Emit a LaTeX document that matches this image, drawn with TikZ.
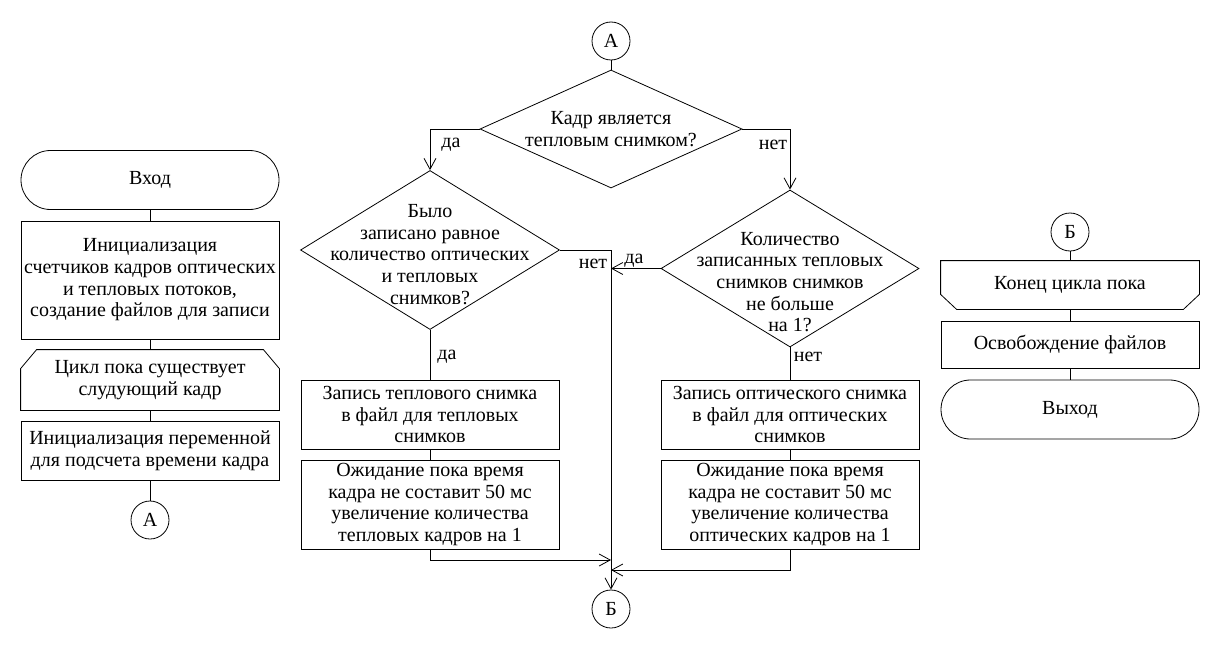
\documentclass[tikz,border=0pt]{standalone}
\usepackage{fontspec}
\setmainfont{Liberation Serif}
\usetikzlibrary{shapes.geometric,arrows.meta}

\tikzset{
  block/.style={draw,rectangle,minimum width=258pt,align=center,inner sep=2pt},
  term/.style={block,rounded corners=29.5pt,minimum height=59pt},
  conn/.style={draw,circle,minimum size=38pt,inner sep=0pt},
  decision/.style={draw,diamond,inner sep=0pt},
  qtext/.style={align=center,inner sep=0pt},
  lbl/.style={inner sep=1pt},
}

\begin{document}
\begin{tikzpicture}[x=1pt,y=-1pt,line width=0.8pt,
  >={Straight Barb[length=11pt,width=12pt]},
  font=\fontsize{20}{21.7}\selectfont]
\useasboundingbox (0,0) rectangle (1220,650);
% left column
\node[term] (start) at (150,180) {Вход};
\node[block,minimum height=118pt] (init) at (150,280)
  {Инициализация\\счетчиков кадров оптических\\и тепловых потоков,\\создание файлов для записи};
\node[block,draw=none,minimum height=60pt] (loop) at (150,380) {Цикл пока существует\\слудующий кадр};
\draw ([yshift=-19pt]loop.north west)--([xshift=16pt]loop.north west)
  --([xshift=-16pt]loop.north east)--([yshift=-19pt]loop.north east)
  --(loop.south east)--(loop.south west)--cycle;
\node[block,minimum height=59pt] (ivar) at (150,450.5) {Инициализация переменной\\для подсчета времени кадра};
\node[conn] (A1) at (150,520) {А};
\draw (start)--(init) (init)--(loop) (loop)--(ivar) (ivar)--(A1);
% middle
\node[conn] (A2) at (611,41) {А};
\node[decision,minimum width=262pt,minimum height=118pt] (q1) at (611,129) {};
\node[qtext] (q1t) at (611,129) {Кадр является\\тепловым снимком?};
\node[decision,minimum width=259pt,minimum height=159pt] (q2) at (430,250) {};
\node[qtext] (q2t) at (430,254.5) {Было\\записано равное\\количество оптических\\и тепловых\\снимков?};
\node[decision,minimum width=258pt,minimum height=157pt] (q3) at (790,268.5) {};
\node[qtext] (q3t) at (790,282) {Количество\\записанных тепловых\\снимков снимков\\не больше\\на 1?};
\node[block,minimum height=69pt] (th1) at (430,414.5) {Запись теплового снимка\\в файл для тепловых\\снимков};
\node[block,minimum height=89pt] (th2) at (430,504.5) {Ожидание пока время\\кадра не составит 50 мс\\увеличение количества\\тепловых кадров на 1};
\node[block,minimum height=69pt] (op1) at (790,414.5) {Запись оптического снимка\\в файл для оптических\\снимков};
\node[block,minimum height=89pt] (op2) at (790,504.5) {Ожидание пока время\\кадра не составит 50 мс\\увеличение количества\\оптических кадров на 1};
\node[conn] (B2) at (611,609) {Б};
\coordinate (jl) at (611,560);
\coordinate (jr) at (611,570);
\draw (A2)--(q1.north);
\draw[->] (q1.west)-|(q2.north);
\draw[->] (q1.east)-|(q3.north);
\draw[->] (q2.east)-|(B2.north);
\draw[->] (q3.west)--(q3.west-|B2);
\draw (q2.south)--(th1) (th1)--(th2);
\draw (q3.south)--(op1) (op1)--(op2);
\draw[->] (th2.south)|-(jl);
\draw[->] (op2.south)|-(jr);
\node[lbl] (l1) at (451,145) {да};
\node[lbl] (l2) at (773,145) {нет};
\node[lbl] (l3) at (593,264) {нет};
\node[lbl] (l4) at (634,261) {да};
\node[lbl] (l5) at (447,357) {да};
\node[lbl] (l6) at (808,357) {нет};
% right column
\node[conn] (B3) at (1070,232) {Б};
\node[block,draw=none,minimum height=48pt] (lend) at (1070,285) {Конец цикла пока};
\draw (lend.north west)--(lend.north east)--([yshift=15pt]lend.south east)
  --([xshift=-16pt]lend.south east)--([xshift=16pt]lend.south west)
  --([yshift=15pt]lend.south west)--cycle;
\node[block,minimum height=47pt] (free) at (1070,344.5) {Освобождение файлов};
\node[term] (stop) at (1070,409.5) {Выход};
\draw (B3)--(lend) (lend)--(free) (free)--(stop);
\end{tikzpicture}
\end{document}
